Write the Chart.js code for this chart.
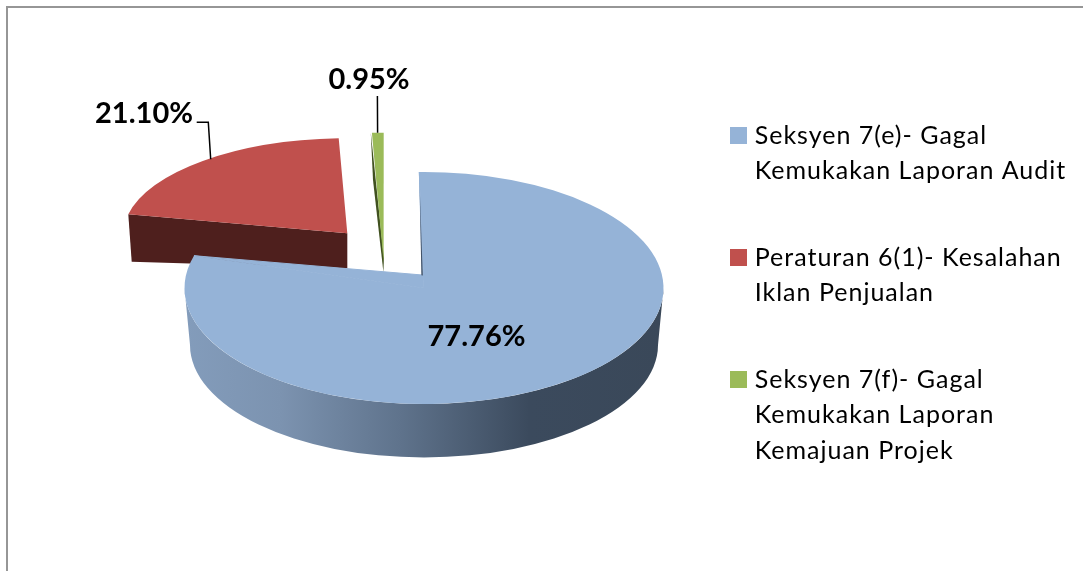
<!DOCTYPE html>
<html><head><meta charset="utf-8">
<style>
html,body{margin:0;padding:0;background:#fff;width:1083px;height:571px;overflow:hidden}
#frame{position:absolute;left:6px;top:6px;width:1077px;height:565px;border-left:2px solid #969696;border-top:2px solid #969696;box-sizing:border-box}
canvas{position:absolute;left:0;top:0}
</style>
<script src="https://cdn.jsdelivr.net/npm/chart.js@4/dist/chart.umd.min.js"></script>
</head><body>
<div id="frame"></div>
<canvas id="c" width="1083" height="571"></canvas>
<script>
const categories = ["Seksyen 7(e)- Gagal Kemukakan Laporan Audit","Peraturan 6(1)- Kesalahan Iklan Penjualan","Seksyen 7(f)- Gagal Kemukakan Laporan Kemajuan Projek"];
const legendLines = [["Seksyen 7(e)- Gagal","Kemukakan Laporan Audit"],["Peraturan 6(1)- Kesalahan","Iklan Penjualan"],["Seksyen 7(f)- Gagal","Kemukakan Laporan","Kemajuan Projek"]];
const shares = [77.76,21.10,0.95];
const valueLabels = ["77.76%","21.10%","0.95%"];
const topColors = ["#95b3d7","#c0504d","#9bbb59"];

const FONT = 'Lato';
/* Styling of the 3D look: how each slice is projected on to the page */
const blueFrame = {cx:424,cy:288,rx:239.5,ry:116,apex:[422.3,275],startWarp:-1.12,endWarp:5.7,
  wallCy:345,wallRx:234,wallRy:112.5};
const redFrame = {apex:[347.3,233.3],p1:[128.3,214.3],p2:[338.7,138.3]};
const greenFrame = {apex:[383.6,262],p1:[371.9,132.7],p2:[383.7,132.7]};
const labelPos = [[476.5,337],[144,114],[369,80]];

function swatch(color){const s=document.createElement('canvas');s.width=17;s.height=17;const x=s.getContext('2d');x.fillStyle=color;x.fillRect(0,0,17,17);return s;}

function frameMatrix(arc,f){
  const u1=[Math.cos(arc.startAngle),Math.sin(arc.startAngle)],u2=[Math.cos(arc.endAngle),Math.sin(arc.endAngle)];
  const v1=[f.p1[0]-f.apex[0],f.p1[1]-f.apex[1]],v2=[f.p2[0]-f.apex[0],f.p2[1]-f.apex[1]];
  const det=u1[0]*u2[1]-u2[0]*u1[1],R=arc.outerRadius;
  const i=[u2[1]/det,-u2[0]/det,-u1[1]/det,u1[0]/det];
  const a=(v1[0]*i[0]+v2[0]*i[2])/R,c=(v1[0]*i[1]+v2[0]*i[3])/R;
  const b=(v1[1]*i[0]+v2[1]*i[2])/R,d=(v1[1]*i[1]+v2[1]*i[3])/R;
  return [a,b,c,d,f.apex[0]-a*arc.x-c*arc.y,f.apex[1]-b*arc.x-d*arc.y];
}
function poly(ctx,pts,fill){ctx.beginPath();pts.forEach((p,i)=>i?ctx.lineTo(p[0],p[1]):ctx.moveTo(p[0],p[1]));ctx.closePath();ctx.fillStyle=fill;ctx.fill();}

const pie3d = {
  id:'pie3d',
  afterLayout(chart){ const l=chart.legend; l.left=684.7; l.right=chart.width; },
  beforeDraw(chart){ chart.ctx.letterSpacing='1px'; },
  beforeDatasetDraw(chart,args){
    const ctx=chart.ctx, arcs=chart.getDatasetMeta(0).data, [blue,red,green]=arcs;
    ctx.letterSpacing='0px';
    ctx.save();
    /* red */
    poly(ctx,[redFrame.p1,redFrame.apex,[347.3,268.3],[131.7,261.7]],'#4e1f1d');
    ctx.save();ctx.setTransform(...frameMatrix(red,redFrame));red.draw(ctx);ctx.restore();
    /* green */
    poly(ctx,[[370.8,132.7],[373.0,180],[383.4,272],[383.9,258]],'#40511f');
    ctx.save();ctx.setTransform(...frameMatrix(green,greenFrame));green.draw(ctx);ctx.restore();
    /* blue wall */
    const b=blueFrame;
    const g=ctx.createLinearGradient(b.cx-b.rx,0,b.cx+b.rx,0);
    g.addColorStop(0,'#839cbb');g.addColorStop(.2,'#7c93b0');g.addColorStop(.45,'#5f738c');g.addColorStop(.72,'#3b4a5d');g.addColorStop(1,'#3a4859');
    ctx.beginPath();ctx.ellipse(b.cx,b.cy,b.rx,b.ry,0,0,Math.PI);
    ctx.ellipse(b.cx,b.wallCy,b.wallRx,b.wallRy,0,Math.PI,0,true);ctx.closePath();ctx.fillStyle=g;ctx.fill();
    /* blue top */
    const s=blue.startAngle,e=blue.endAngle,c=blue.circumference;
    const s2=s+b.startWarp*Math.PI/180,e2=e+b.endWarp*Math.PI/180;
    const ps=[b.cx+b.rx*Math.cos(s2),b.cy+b.ry*Math.sin(s2)],pe=[b.cx+b.rx*Math.cos(e2),b.cy+b.ry*Math.sin(e2)];
    ctx.beginPath();ctx.moveTo(b.cx,b.cy);ctx.lineTo(ps[0],ps[1]);ctx.lineTo(b.apex[0],b.apex[1]);ctx.lineTo(pe[0],pe[1]);ctx.closePath();
    ctx.fillStyle=topColors[0];ctx.fill();ctx.strokeStyle=topColors[0];ctx.lineWidth=1;ctx.stroke();
    ctx.save();
    const k=1/blue.outerRadius;
    ctx.setTransform(b.rx*k,0,0,b.ry*k,b.cx-b.rx*k*blue.x,b.cy-b.ry*k*blue.y);
    blue.startAngle=s2;blue.endAngle=e2;blue.circumference=e2-s2;
    blue.draw(ctx);
    blue.startAngle=s;blue.endAngle=e;blue.circumference=c;
    ctx.restore();
    /* inner wall sliver */
    const ig=ctx.createLinearGradient(0,180,0,275);ig.addColorStop(0,'#8ea9cb');ig.addColorStop(.3,'#4d5f78');ig.addColorStop(1,'#3f4f63');
    ctx.beginPath();ctx.moveTo(419.4,178);ctx.lineTo(422.8,275.4);ctx.lineTo(421.4,275.2);ctx.closePath();ctx.fillStyle=ig;ctx.fill();
    /* leaders */
    ctx.strokeStyle='#000';ctx.lineWidth=1.5;
    ctx.beginPath();ctx.moveTo(196.7,122.3);ctx.lineTo(208.3,122.3);ctx.lineTo(210.7,159.3);
    ctx.moveTo(377.4,96);ctx.lineTo(377.6,132.7);ctx.stroke();
    /* labels */
    ctx.fillStyle='#000';ctx.font='bold 29px '+FONT;ctx.textAlign='center';ctx.textBaseline='middle';
    valueLabels.forEach((t,i)=>ctx.fillText(t,labelPos[i][0],labelPos[i][1]));
    ctx.restore();
    return false;
  }
};

new Chart(document.getElementById('c'),{
  type:'pie',
  plugins:[pie3d],
  data:{labels:categories,datasets:[{data:shares,backgroundColor:topColors,borderWidth:0}]},
  options:{
    responsive:false,animation:false,
    layout:{padding:{top:72.5}},
    plugins:{
      tooltip:{enabled:false},
      legend:{position:'right',align:'start',
        labels:{
          color:'#000',padding:50.5,boxWidth:7,boxHeight:17,usePointStyle:true,
          font:{family:FONT,size:25,lineHeight:1.43},
          generateLabels:()=>legendLines.map((t,i)=>({text:t,fillStyle:topColors[i],strokeStyle:topColors[i],lineWidth:0,pointStyle:swatch(topColors[i]),hidden:false,index:i}))
        }}
    }
  }
});
</script>
</body></html>
